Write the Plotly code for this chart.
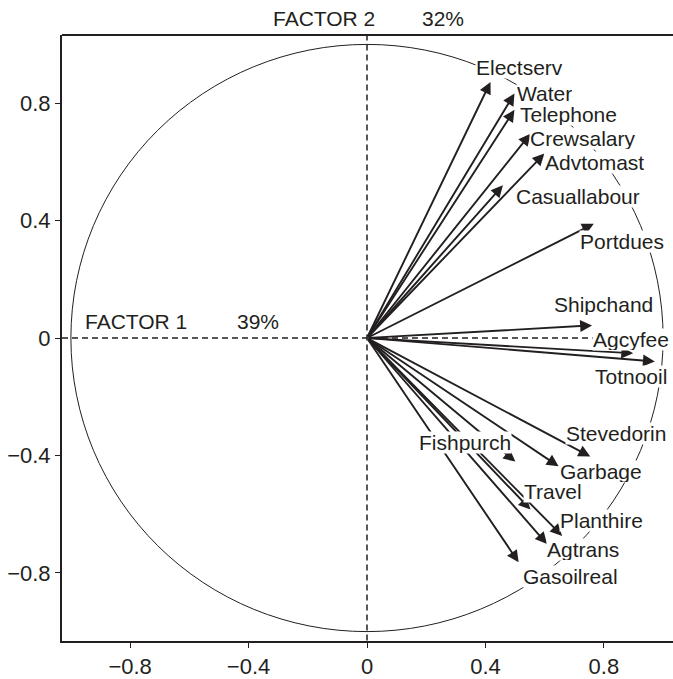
import plotly.graph_objects as go

# Loadings of each cost variable on the first two factors
variables = ["Electserv", "Water", "Telephone", "Crewsalary", "Advtomast",
             "Casuallabour", "Portdues", "Shipchand", "Agcyfee", "Totnooil",
             "Stevedorin", "Garbage", "Fishpurch", "Travel", "Planthire",
             "Agtrans", "Gasoilreal"]
factor1 = [0.417, 0.498, 0.498, 0.552, 0.599, 0.459, 0.766, 0.760, 0.899, 0.972,
           0.754, 0.647, 0.501, 0.552, 0.659, 0.608, 0.512]
factor2 = [0.872, 0.833, 0.777, 0.696, 0.628, 0.520, 0.389, 0.043, -0.052, -0.080,
           -0.404, -0.437, -0.421, -0.584, -0.674, -0.702, -0.764]

tick_vals = [-0.8, -0.4, 0, 0.4, 0.8]
tick_text = ["\u22120.8", "\u22120.4", "0", "0.4", "0.8"]

# Label placement relative to each arrow tip, in screen pixels (dx right, dy down)
label_offsets = [(29, -14), (30, 0), (54, 5), (53, 5), (50, 9), (75, 11), (28, 18),
                 (11, -21), (-2, -14), (-24, 15), (26, -23), (42, 5), (-50, -19),
                 (23, -18), (39, -15), (36, 5), (52, 14)]

INK = "#231f20"
FONT = "Liberation Sans, Arial, Helvetica, sans-serif"
FS = 21
R = 1.03

fig = go.Figure()

shapes = [
    # top edge of the frame
    dict(type="line", xref="paper", yref="paper", x0=0, y0=1, x1=1, y1=1,
         line=dict(color=INK, width=2), layer="above"),
    # correlation circle
    dict(type="circle", xref="x", yref="y", x0=-1, y0=-1, x1=1, y1=1,
         line=dict(color=INK, width=1), layer="above"),
    # factor axes through the origin
    dict(type="line", xref="x", yref="y", x0=-R, y0=0, x1=R, y1=0,
         line=dict(color=INK, width=1.5, dash="6px,4px"), layer="above"),
    dict(type="line", xref="x", yref="y", x0=0, y0=-R, x1=0, y1=R,
         line=dict(color=INK, width=1.5, dash="6px,4px"), layer="above"),
]

annotations = []
for f1, f2 in zip(factor1, factor2):
    annotations.append(dict(
        x=f1, y=f2, ax=0, ay=0, xref="x", yref="y", axref="x", ayref="y",
        text="", showarrow=True, arrowhead=2, arrowsize=1.25, arrowwidth=1.9,
        arrowcolor=INK, standoff=0, startstandoff=0))

# labels sit on a tight white box so the circle and lines pass behind them
for name, f1, f2, (dx, dy) in zip(variables, factor1, factor2, label_offsets):
    annotations.append(dict(
        x=f1, y=f2, xref="x", yref="y", text=name, showarrow=False,
        xshift=dx, yshift=-dy, xanchor="center", yanchor="middle",
        bgcolor="white", borderpad=0, height=21, valign="middle",
        font=dict(family=FONT, size=FS, color=INK)))

title_font = dict(family=FONT, size=FS, color=INK)
annotations += [
    dict(x=-0.959, y=0.057, xref="x", yref="y", text="FACTOR 1", showarrow=False,
         xanchor="left", yanchor="middle", font=title_font),
    dict(x=-0.447, y=0.057, xref="x", yref="y", text="39%", showarrow=False,
         xanchor="left", yanchor="middle", font=title_font),
    dict(x=0.035, y=1.027, xref="x", yref="paper", text="FACTOR 2", showarrow=False,
         xanchor="right", yanchor="middle", font=title_font),
    dict(x=0.18, y=1.027, xref="x", yref="paper", text="32%", showarrow=False,
         xanchor="left", yanchor="middle", font=title_font),
]

tick_font = dict(family=FONT, size=22, color=INK)

fig.update_layout(
    width=673, height=679,
    margin=dict(l=62, r=0, t=35, b=32),
    paper_bgcolor="white", plot_bgcolor="white",
    showlegend=False,
    shapes=shapes, annotations=annotations,
    font=dict(family=FONT, size=FS, color=INK),
    xaxis=dict(range=[-R, R + 0.0034], tickvals=tick_vals, ticktext=tick_text,
               tickfont=tick_font,
               showgrid=False, zeroline=False, showline=True, linecolor=INK,
               linewidth=2, ticks="outside", ticklen=5,
               tickcolor=INK, tickwidth=1, fixedrange=True),
    yaxis=dict(range=[-1.032, 1.032], tickvals=tick_vals, ticktext=tick_text,
               tickfont=tick_font,
               showgrid=False, zeroline=False, showline=True, linecolor=INK,
               linewidth=2, ticks="outside", ticklen=5, tickcolor=INK,
               tickwidth=1, fixedrange=True),
)

fig.write_html("out.html")
